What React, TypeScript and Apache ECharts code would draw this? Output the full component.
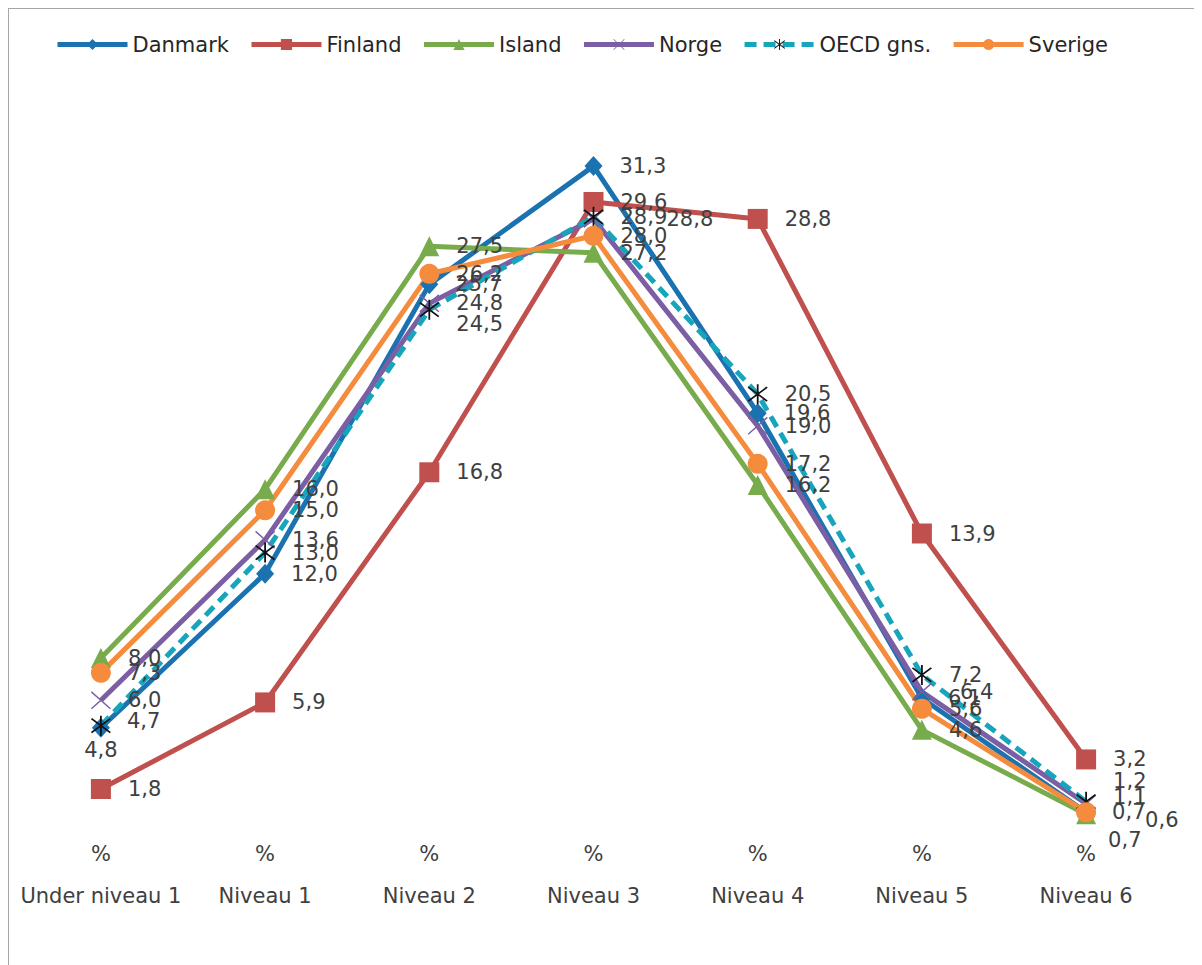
import React, { useEffect, useRef } from "react";
import * as echarts from "echarts";

const categories = ["Under niveau 1", "Niveau 1", "Niveau 2", "Niveau 3", "Niveau 4", "Niveau 5", "Niveau 6"];
const unitLabel = "%";

const danmark = [4.7, 12.0, 25.7, 31.3, 19.6, 6.1, 0.7];
const finland = [1.8, 5.9, 16.8, 29.6, 28.8, 13.9, 3.2];
const island = [8.0, 16.0, 27.5, 27.2, 16.2, 4.6, 0.6];
const norge = [6.0, 13.6, 24.8, 28.8, 19.0, 6.4, 1.1];
const oecd = [4.8, 13.0, 24.5, 28.9, 20.5, 7.2, 1.2];
const sverige = [7.3, 15.0, 26.2, 28.0, 17.2, 5.6, 0.7];

const ASTERISK =
  "path://M9.2 0 L10.8 0 L10.8 20 L9.2 20 Z M0.99 3.62 L2.01 2.38 L19.01 16.38 L17.99 17.62 Z M17.99 2.38 L19.01 3.62 L2.01 17.62 L0.99 16.38 Z";
const CROSS =
  "path://M0.99 3.12 L1.81 2.18 L19.01 16.88 L18.19 17.82 Z M18.19 2.18 L19.01 3.12 L1.81 17.82 L0.99 16.88 Z";

const fmt = (v: number) => v.toFixed(1).replace(".", ",");

type LabelTweak = { [idx: number]: any };

function buildData(values: number[], tweaks: LabelTweak) {
  return values.map((v, i) => (tweaks[i] ? { value: v, label: tweaks[i] } : v));
}

export default function App() {
  const ref = useRef<HTMLDivElement>(null);
  useEffect(() => {
    document.body.style.overflow = "hidden";
    const chart = echarts.init(ref.current!, null, { renderer: "svg" });
    const font = "'DejaVu Sans', Verdana, sans-serif";
    const labelBase = {
      show: true,
      position: "right",
      distance: 17,
      fontSize: 21,
      fontFamily: font,
      color: "#404040",
      formatter: (p: any) => fmt(Array.isArray(p.value) ? p.value[1] : p.value),
    };
    const mk = (
      name: string,
      values: number[],
      color: string,
      symbol: string,
      symbolSize: any,
      tweaks: LabelTweak,
      extra: any = {}
    ) => ({
      name,
      type: "line",
      data: buildData(values, tweaks),
      symbol,
      symbolSize,
      symbolKeepAspect: false,
      showAllSymbol: true,
      lineStyle: { color, width: 5, ...(extra.lineStyle || {}) },
      itemStyle: { color: extra.markerColor || color, ...(extra.itemStyle || {}) },
      label: labelBase,
      emphasis: { disabled: true },
    });

    chart.setOption({
      animation: false,
      backgroundColor: "#ffffff",
      legend: {
        left: 41,
        top: 20,
        itemWidth: 70,
        itemHeight: 14,
        itemGap: 20,
        lineStyle: { width: 5 },
        textStyle: { fontSize: 21, fontFamily: font, color: "#262626" },
        data: ["Danmark", "Finland", "Island", "Norge", "OECD gns.", "Sverige"],
      },
      grid: { left: 9.8, right: 32.8, top: 79, bottom: 137, containLabel: false },
      xAxis: {
        type: "category",
        data: categories,
        boundaryGap: true,
        axisLine: { show: false },
        axisTick: { show: false },
        axisLabel: {
          interval: 0,
          margin: 16,
          fontSize: 21,
          lineHeight: 21,
          fontFamily: font,
          color: "#404040",
          formatter: (v: string) => `${unitLabel}\n\n${v}`,
        },
      },
      yAxis: { type: "value", min: 0, max: 35, show: false, splitLine: { show: false } },
      series: [
        mk("Danmark", danmark, "#1b72b0", "diamond", [18, 20], { 0: { offset: [0, -7] } }),
        mk("Finland", finland, "#c0504d", "rect", 20, {}),
        mk("Island", island, "#77ab4c", "triangle", 20, { 6: { offset: [32, 6] } }),
        mk("Norge", norge, "#7b5ea3", CROSS, [20, 18], {
          3: { offset: [46, 0] },
          5: { offset: [11, 0] },
          6: { offset: [0, -7] },
        }),
        mk(
          "OECD gns.",
          oecd,
          "#17a5bb",
          ASTERISK,
          20,
          {
            0: { position: "bottom", distance: 4 },
            2: { offset: [0, 14] },
            6: { offset: [0, -21] },
          },
          { lineStyle: { type: [12, 7] }, markerColor: "#111111" }
        ),
        mk("Sverige", sverige, "#f58b3c", "circle", 20, { 6: { offset: [-5, 28] } }),
      ],
    });
    return () => chart.dispose();
  }, []);

  return (
    <div
      style={{
        width: 1194,
        height: 957,
        boxSizing: "border-box",
        borderTop: "1.5px solid #a6a6a6",
        borderLeft: "1.5px solid #a6a6a6",
        background: "#fff",
      }}
    >
      <div ref={ref} style={{ width: 1192, height: 955 }} />
    </div>
  );
}
